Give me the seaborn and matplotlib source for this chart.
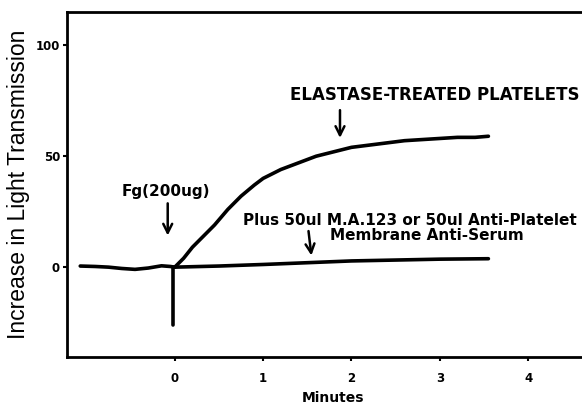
import matplotlib
matplotlib.use("Agg")
import matplotlib.pyplot as plt
import seaborn as sns
import pandas as pd

# trace
base_t = [-1.07, -0.9, -0.75, -0.6, -0.45, -0.3, -0.15, -0.05, 0.0]
base_v = [0.5, 0.3, 0.0, -0.6, -1.0, -0.4, 0.6, 0.3, 0.0]

spike_t = [-0.02, -0.02]
spike_v = [0.0, -26.0]

elastase_t = [0.0, 0.1, 0.2, 0.3, 0.45, 0.6, 0.75, 0.9, 1.0, 1.2, 1.4, 1.6,
              1.8, 2.0, 2.2, 2.4, 2.6, 2.8, 3.0, 3.2, 3.4, 3.55]
elastase_v = [0.0, 4.0, 9.0, 13.0, 19.0, 26.0, 32.0, 37.0, 40.0, 44.0, 47.0, 50.0,
              52.0, 54.0, 55.0, 56.0, 57.0, 57.5, 58.0, 58.5, 58.5, 59.0]

blocked_t = [0.0, 0.5, 1.0, 1.5, 2.0, 2.5, 3.0, 3.55]
blocked_v = [0.0, 0.5, 1.2, 2.0, 2.8, 3.2, 3.6, 3.8]

xticks = [0, 1, 2, 3, 4]
yticks = [0, 50, 100]

sns.set_style("ticks")
plt.rcParams['font.family'] = ['Liberation Sans', 'DejaVu Sans']
plt.rcParams.update({"text.color": "black", "axes.labelcolor": "black",
                     "xtick.color": "black", "ytick.color": "black",
                     "axes.edgecolor": "black"})

fig = plt.figure(figsize=(5.82, 4.07), dpi=100)
ax = fig.add_axes([67 / 582, 1 - 357 / 407, (600 - 67) / 582, (357 - 12) / 407])

for t, v in [(base_t, base_v), (spike_t, spike_v), (elastase_t, elastase_v), (blocked_t, blocked_v)]:
    df = pd.DataFrame({"t": t, "v": v})
    sns.lineplot(data=df, x="t", y="v", ax=ax, color="black", lw=2.6, sort=False,
                 estimator=None)

ax.set_xlim(-1.22, (600 - 175) / 88.3)
ax.set_ylim(-40.5, 115)
ax.set_xticks(xticks)
ax.set_yticks(yticks)
bold = dict(family="DejaVu Sans", fontweight="bold")
ax.set_xticklabels([str(x) for x in xticks], fontsize=8.5, **bold)
ax.set_yticklabels([str(y) for y in yticks], fontsize=8.5, **bold)
ax.tick_params(axis="x", length=3, width=1.5, pad=8)
ax.tick_params(axis="y", length=3, width=1.5, pad=2)
for s in ax.spines.values():
    s.set_linewidth(2)
ax.spines["right"].set_visible(False)

ax.set_xlabel("Minutes", fontsize=10, labelpad=4, **bold)
ax.set_ylabel("Increase in Light Transmission", fontsize=16.5, labelpad=4)

arrow = dict(arrowstyle="->", lw=1.8, color="black", mutation_scale=16)
ax.text(-0.1, 34, "Fg(200ug)", fontsize=11, ha="center", va="center", **bold)
ax.annotate("", xy=(-0.08, 13), xytext=(-0.08, 30), arrowprops=arrow)

ax.text(1.30, 77.5, "ELASTASE-TREATED PLATELETS", fontsize=12,
        ha="left", va="center", **bold)
ax.annotate("", xy=(1.87, 57), xytext=(1.87, 72), arrowprops=arrow)

ax.text(0.77, 21, "Plus 50ul M.A.123 or 50ul Anti-Platelet", fontsize=11,
        ha="left", va="center", **bold)
ax.text(1.755, 14.4, "Membrane Anti-Serum", fontsize=11,
        ha="left", va="center", **bold)
ax.annotate("", xy=(1.55, 4.0), xytext=(1.51, 17.5), arrowprops=arrow)

fig.savefig("out.png", dpi=100)
